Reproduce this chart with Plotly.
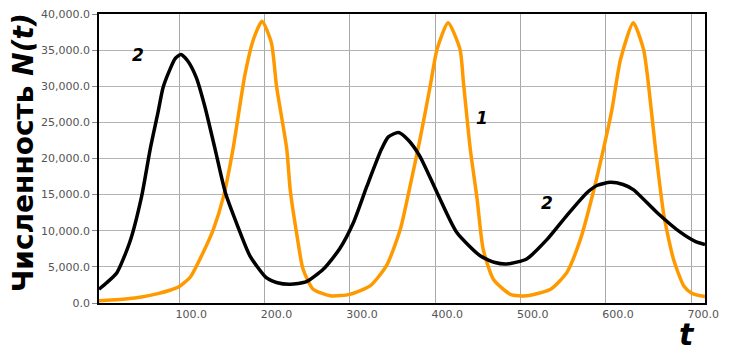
import plotly.graph_objects as go

# Curve 1 (orange)
t1 = [6, 20, 40, 54, 75, 90, 99, 113, 128, 140, 152, 163, 177, 187, 197, 208, 214, 226, 230, 238,
      245, 257, 277, 300, 324, 343, 359, 371, 382, 394, 402, 415, 429, 433, 441, 449, 456, 468,
      488, 507, 535, 554, 570, 585, 597, 607, 617, 632, 644, 650, 658, 668, 679, 691, 700, 711, 716]
n1 = [300, 400, 600, 800, 1300, 1800, 2200, 3600, 7000, 10200, 14800, 21300, 31600, 36500, 39000,
      36000, 30000, 21300, 15700, 9300, 4700, 1900, 1000, 1200, 2400, 5200, 10200, 16500, 22600,
      30000, 35100, 38800, 35100, 30500, 21300, 14400, 7500, 3300, 1200, 1000, 1900, 4200, 8800,
      15300, 21300, 26800, 33700, 38800, 35100, 30000, 21300, 12000, 6100, 2400, 1400, 1000, 900]

# Curve 2 (black)
t2 = [6, 15, 27, 42, 56, 66, 75, 81, 89, 95, 102, 110, 120, 130, 142, 154, 167, 183, 202, 215, 230,
      249, 269, 288, 304, 320, 337, 345, 357, 368, 382, 402, 425, 453, 470, 484, 507, 531, 554, 578,
      590, 605, 620, 632, 660, 687, 705, 716]
n2 = [1900, 2800, 4200, 8400, 14800, 21300, 26300, 29800, 32300, 33800, 34400, 33500, 31200, 27200,
      21300, 15300, 11100, 6500, 3500, 2800, 2600, 2950, 4700, 7500, 11100, 16200, 21300, 23000,
      23600, 22600, 20300, 15300, 9800, 6500, 5600, 5400, 6100, 8800, 12100, 15300, 16300, 16700,
      16400, 15700, 12500, 9800, 8500, 8100]

x_ticks = [100, 200, 300, 400, 500, 600, 700]
y_ticks = [0, 5000, 10000, 15000, 20000, 25000, 30000, 35000, 40000]

labels = [("2", 52, 34350), ("1", 455, 25580), ("2", 531, 13800)]

fig = go.Figure()
fig.add_trace(go.Scatter(x=t1, y=n1, mode="lines", line=dict(color="#FF9900", width=3.5, shape="spline", smoothing=0.6),
                         hoverinfo="skip"))
fig.add_trace(go.Scatter(x=t2, y=n2, mode="lines", line=dict(color="#000000", width=3.5, shape="spline", smoothing=0.6),
                         hoverinfo="skip"))

for txt, xv, yv in labels:
    fig.add_annotation(x=xv, y=yv, text=f"<b><i>{txt}</i></b>", showarrow=False,
                       xanchor="center", yanchor="middle",
                       font=dict(family="DejaVu Sans", size=17, color="black"))

fig.add_annotation(xref="paper", yref="paper", x=-0.124, y=0.521, text="<b>Численность <i>N(t)</i></b>",
                   textangle=-90, showarrow=False, xanchor="center", yanchor="middle", borderpad=0,
                   font=dict(family="DejaVu Sans", size=28, color="black"))
fig.add_annotation(xref="paper", yref="paper", x=0.970, y=-0.108, text="<b><i>t</i></b>",
                   showarrow=False, xanchor="center", yanchor="middle", borderpad=0,
                   font=dict(family="DejaVu Sans", size=30, color="black"))

fig.update_layout(
    width=721, height=346,
    margin=dict(l=91, r=24, t=6, b=51),
    paper_bgcolor="white", plot_bgcolor="white",
    showlegend=False,
    font=dict(family="DejaVu Sans", size=11, color="#555555"),
)
fig.update_xaxes(range=[6, 716], tickvals=x_ticks, tickformat=".1f", showgrid=True, gridcolor="#a8a8a8",
                 gridwidth=1, showline=True, linecolor="black", linewidth=1.5, mirror=True,
                 ticks="", ticklabelshift=12, zeroline=False, automargin=False,
                 ticklabeloverflow="allow",
                 tickfont=dict(family="DejaVu Sans", size=11, color="#555555"))
fig.update_yaxes(range=[0, 40000], tickvals=y_ticks, tickformat=",.1f", showgrid=True, gridcolor="#b4b4b4",
                 gridwidth=1, showline=True, linecolor="black", linewidth=1.5, mirror=True,
                 ticks="outside", ticklen=5, tickcolor="#888888", zeroline=False, automargin=False,
                 ticklabeloverflow="allow",
                 tickfont=dict(family="DejaVu Sans", size=11, color="#555555"))

fig.write_html("out.html")
